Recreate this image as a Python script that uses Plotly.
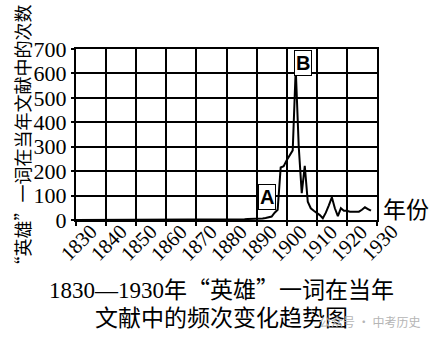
import plotly.graph_objects as go

years = list(range(1830, 1929))
early_vals = [0] * 40  # 1830-1869
mid_vals = [1, 1, 1, 1, 1, 1, 1, 1, 2, 2,   # 1870-1879
            2, 2, 2, 3, 3, 3, 3, 4, 4, 4]   # 1880-1889
late_vals = [5, 5, 6, 8, 10, 14, 30, 42, 215, 220,   # 1890-1899
             245, 265, 285, 620, 300, 110, 222, 75, 48, 38,  # 1900-1909
             30, 20, 7, 30, 60, 93, 48, 16, 48, 38,   # 1910-1919
             38, 34, 34, 34, 34, 42, 52, 45, 38]     # 1920-1928
values = early_vals + mid_vals + late_vals

x_ticks = list(range(1830, 1931, 10))
x_labels = [str(v) for v in x_ticks]
y_ticks = list(range(0, 701, 100))

title_l1a = "1830—1930"
title_l1b = "年“英雄”一词在当年"
title_l2 = "文献中的频次变化趋势图"
y_title = "“英雄”一词在当年文献中的次数"
x_unit = "年份"
watermark = "公众号 · 中考历史"

serif = "Liberation Serif, Times New Roman, serif"
cjk = "Noto Sans CJK SC, sans-serif"
sans = "Liberation Sans, Arial, sans-serif"

X0, X1 = 1830, 1930
fig = go.Figure()
fig.add_trace(go.Scatter(x=years, y=values, mode="lines",
                         line=dict(color="black", width=2), hoverinfo="skip"))

fig.update_layout(
    width=431, height=341,
    margin=dict(l=76, r=54, t=49, b=121),
    paper_bgcolor="white", plot_bgcolor="white",
    showlegend=False,
    font=dict(family=serif, color="black"),
)
fig.update_xaxes(
    range=[X0, X1], tickvals=x_ticks, showticklabels=False,
    ticks="outside", ticklen=4, tickwidth=1.5, tickcolor="black",
    showgrid=True, gridcolor="black", gridwidth=1.5,
    showline=True, linecolor="black", linewidth=2, mirror=True,
    zeroline=False,
)
fig.update_yaxes(
    range=[0, 700], tickvals=y_ticks,
    tickfont=dict(family=serif, size=22, color="black"),
    ticks="outside", ticklen=3, tickwidth=1.5, tickcolor="black",
    showgrid=True, gridcolor="black", gridwidth=1.5,
    showline=True, linecolor="black", linewidth=2, mirror=True,
    zeroline=False,
)

pw, ph = 431 - 76 - 54, 341 - 49 - 121
px = lambda v: (v - 76) / pw
py = lambda v: (220 - v) / ph

annotations = []
# rotated x tick labels (placed in paper space so the last one is not dropped)
for t, lab in zip(x_ticks, x_labels):
    annotations.append(dict(x=(t - X0) / (X1 - X0) + 2 / pw, y=py(242.5),
                            xref="paper", yref="paper", text=lab,
                            textangle=-45, showarrow=False,
                            font=dict(family=serif, size=20.5, color="black")))
annotations += [
    dict(x=1893.6, y=95, xref="x", yref="y", text="<b>A</b>", showarrow=False,
         font=dict(family=sans, size=20, color="black"),
         bgcolor="white", bordercolor="black", borderwidth=1, borderpad=1),
    dict(x=1905.3, y=644, xref="x", yref="y", text="<b>B</b>", showarrow=False,
         font=dict(family=sans, size=20, color="black"),
         bgcolor="white", bordercolor="black", borderwidth=1, borderpad=1),
    dict(x=px(406), y=py(208), xref="paper", yref="paper", text=x_unit, showarrow=False,
         font=dict(family=cjk, size=23, color="black")),
    dict(x=px(21.5), y=py(140), xref="paper", yref="paper", text=y_title, showarrow=False,
         textangle=-90, font=dict(family=cjk, size=18, color="black")),
    dict(x=px(221.5), y=py(288), xref="paper", yref="paper",
         text=title_l1a + f'<span style="font-family:{cjk}">{title_l1b}</span>',
         showarrow=False, font=dict(family=serif, size=23, color="black")),
    dict(x=px(221), y=py(316), xref="paper", yref="paper", text=title_l2, showarrow=False,
         font=dict(family=cjk, size=23, color="black")),
    dict(x=px(369), y=py(321), xref="paper", yref="paper", text=watermark,
         showarrow=False, font=dict(family=cjk, size=12, color="#b5b5b5")),
]
for a in annotations:
    a["xanchor"] = "center"
    a["yanchor"] = "middle"
fig.update_layout(annotations=annotations)

fig.write_html("out.html")
